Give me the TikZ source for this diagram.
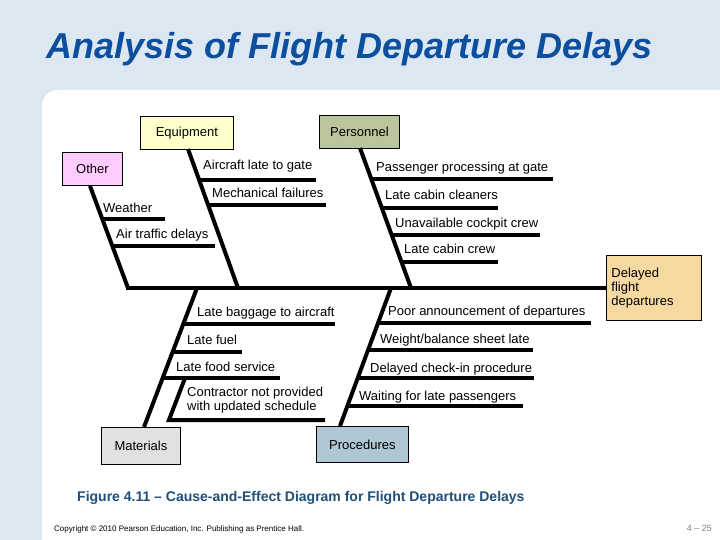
\documentclass[tikz,border=0pt]{standalone}
\usepackage{fontspec}
\setmainfont{Liberation Sans}
\definecolor{bg}{HTML}{DCE7F1}
\definecolor{titleblue}{HTML}{0B4F9E}
\definecolor{capblue}{HTML}{1F4F7A}
\definecolor{cpink}{HTML}{FFCCFF}
\definecolor{cyellow}{HTML}{FFFFCC}
\definecolor{csage}{HTML}{B9C59B}
\definecolor{ctan}{HTML}{F6D9A1}
\definecolor{cgray}{HTML}{E1E1E1}
\definecolor{cblue}{HTML}{AFC6D3}
\begin{document}
\begin{tikzpicture}[x=1pt,y=-1pt,
  cat/.style={draw=black,line width=0.8pt,font=\fontsize{13}{14}\selectfont,inner sep=0pt,anchor=north west},
  bone/.style={line width=4pt},
  lbl/.style={font=\fontsize{13}{14}\selectfont,anchor=base west,inner sep=0pt}]
\useasboundingbox (0,0) rectangle (720,540);
\fill[bg] (0,0) rectangle (720,540);
\fill[white,rounded corners=16pt] (42,90) rectangle (740,560);
\node[anchor=base west,inner sep=0pt,text=titleblue,font=\fontsize{36}{40}\selectfont\bfseries\itshape] (title) at (46,59) {Analysis of Flight Departure Delays};
% boxes
\node[cat,fill=cpink,minimum width=60pt,minimum height=33pt] (other) at (62,152) {Other};
\node[cat,fill=cyellow,minimum width=93pt,minimum height=33pt] (equip) at (140,116) {Equipment};
\node[cat,fill=csage,minimum width=80pt,minimum height=33pt] (pers) at (319,115) {Personnel};
\node[cat,fill=ctan,minimum width=95pt,minimum height=65pt,align=left,text width=85pt] (effect) at (606,255) {Delayed\\flight\\departures};
\node[cat,fill=cgray,minimum width=79pt,minimum height=37pt] (mat) at (101,427) {Materials};
\node[cat,fill=cblue,minimum width=92pt,minimum height=36pt] (proc) at (316,426) {Procedures};
% spine
\coordinate (s0) at (126,288);
\draw[bone] (s0) -- (effect.west |- s0);
% bones
\coordinate (o1) at (128,288);
\coordinate (e1) at (238,288);
\coordinate (p1) at (411,288);
\coordinate (m1) at (197,288);
\coordinate (r1) at (391,288);
\draw[bone] (90,186) -- (o1);
\draw[bone] (188,149) -- (e1);
\draw[bone] (360,148) -- (p1);
\draw[bone] (144,427) -- (m1);
\draw[bone] (340,426) -- (r1);
% Other branches
\draw[bone] (101,219) -- (165,219); \node[lbl] at (103,212) {Weather};
\draw[bone] (111,246) -- (215,246); \node[lbl] at (116,239) {Air traffic delays};
% Equipment
\draw[bone] (198,180) -- (316,180); \node[lbl] at (203,170) {Aircraft late to gate};
\draw[bone] (207,205) -- (326,205); \node[lbl] at (212,197) {Mechanical failures};
% Personnel
\draw[bone] (370,179) -- (553,179); \node[lbl] at (376,172) {Passenger processing at gate};
\draw[bone] (381,208) -- (498,208); \node[lbl] at (385,200) {Late cabin cleaners};
\draw[bone] (391,235) -- (540,235); \node[lbl] at (395,227) {Unavailable cockpit crew};
\draw[bone] (400,262) -- (498,262); \node[lbl] at (404,254) {Late cabin crew};
% Materials
\draw[bone] (184,324) -- (335,324); \node[lbl] at (197,316) {Late baggage to aircraft};
\draw[bone] (173,352) -- (242,352); \node[lbl] at (187,344) {Late fuel};
\draw[bone] (163,378) -- (280,378); \node[lbl] at (176,371) {Late food service};
\coordinate (c0) at (185,378);
\draw[bone] (c0) -- (169,420) -- (325,420);
\node[lbl,align=left,anchor=north west] at (187,387) {Contractor not provided\\with updated schedule};
% Procedures
\draw[bone] (378,323) -- (591,323); \node[lbl] at (388,315) {Poor announcement of departures};
\draw[bone] (368,350) -- (533,350); \node[lbl] at (380,343) {Weight/balance sheet late};
\draw[bone] (358,378) -- (534,378); \node[lbl] at (370,372) {Delayed check-in procedure};
\draw[bone] (347,406) -- (523,406); \node[lbl] at (359,400) {Waiting for late passengers};
% caption
\node[anchor=base west,inner sep=0pt,text=capblue,font=\fontsize{14}{16}\selectfont\bfseries] (cap) at (77,501) {Figure 4.11 -- Cause-and-Effect Diagram for Flight Departure Delays};
\node[anchor=base west,inner sep=0pt,font=\fontsize{8}{9}\selectfont] (copy) at (54,531) {Copyright © 2010 Pearson Education, Inc. Publishing as Prentice Hall.};
\node[anchor=base east,inner sep=0pt,text=gray,font=\fontsize{9}{11}\selectfont] (pg) at (712,531) {4 -- 25};
\end{tikzpicture}
\end{document}
